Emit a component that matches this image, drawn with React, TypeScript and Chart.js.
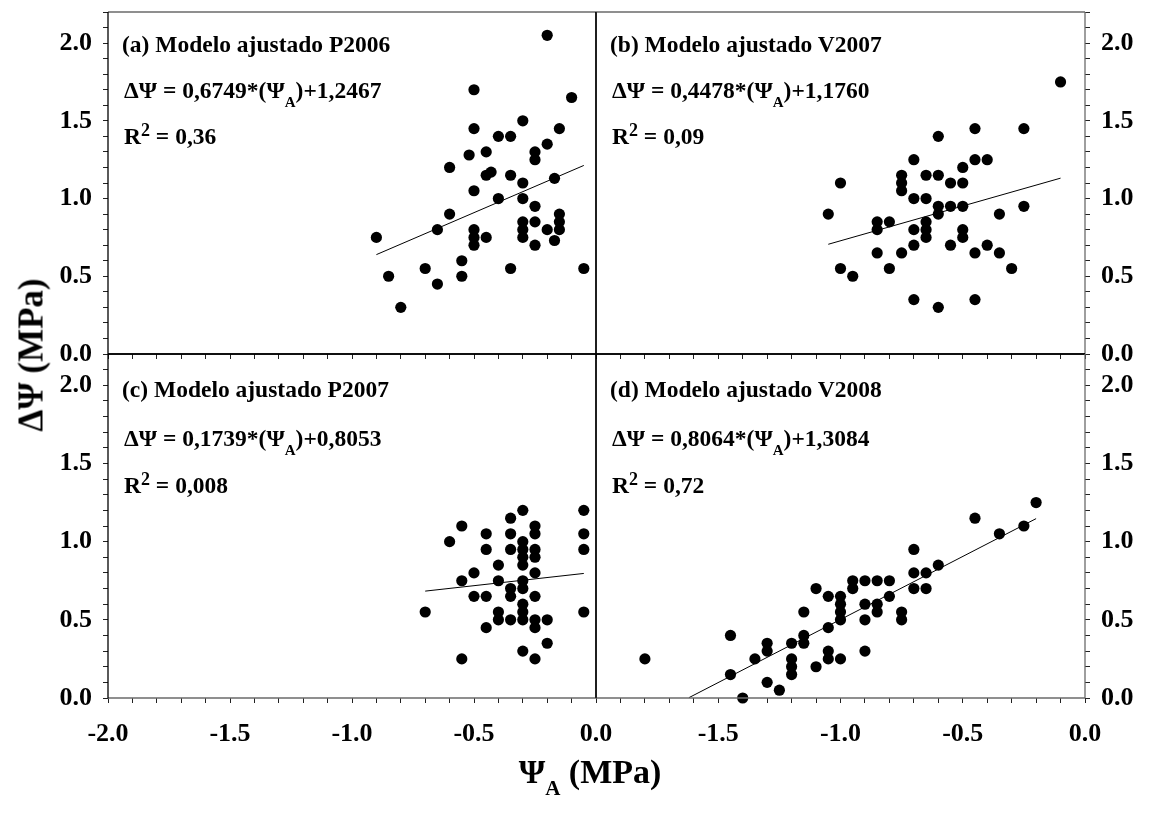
import React, { useEffect, useRef } from "react";
import { Chart, registerables } from "chart.js";
Chart.register(...registerables);

const FONT = "'Liberation Serif', 'Times New Roman', Times, serif";

// ---------- data ----------
const panelTitles = [
  "(a) Modelo ajustado P2006",
  "(b) Modelo ajustado V2007",
  "(c) Modelo ajustado P2007",
  "(d) Modelo ajustado V2008",
];
const fitSlopes = [0.6749, 0.4478, 0.1739, 0.8064];
const fitIntercepts = [1.2467, 1.176, 0.8053, 1.3084];
const r2Labels = ["0,36", "0,09", "0,008", "0,72"];

const xTickValuesLeft = ["-2.0", "-1.5", "-1.0", "-0.5", "0.0"];
const yTickValues = ["0.0", "0.5", "1.0", "1.5", "2.0"];

const aX = [-0.2, -0.5, -0.1, -0.3, -0.5, -0.15, -0.4, -0.35, -0.2, -0.45, -0.25, -0.52, -0.25, -0.6, -0.45, -0.43, -0.35, -0.3, -0.17, -0.5, -0.4, -0.3, -0.25, -0.6, -0.15, -0.3, -0.25, -0.15, -0.65, -0.5, -0.3, -0.2, -0.15, -0.9, -0.5, -0.45, -0.3, -0.17, -0.5, -0.25, -0.55, -0.7, -0.35, -0.05, -0.85, -0.55, -0.65, -0.8];
const aY = [2.05, 1.7, 1.65, 1.5, 1.45, 1.45, 1.4, 1.4, 1.35, 1.3, 1.3, 1.28, 1.25, 1.2, 1.15, 1.17, 1.15, 1.1, 1.13, 1.05, 1.0, 1.0, 0.95, 0.9, 0.9, 0.85, 0.85, 0.85, 0.8, 0.8, 0.8, 0.8, 0.8, 0.75, 0.75, 0.75, 0.75, 0.73, 0.7, 0.7, 0.6, 0.55, 0.55, 0.55, 0.5, 0.5, 0.45, 0.3];
const aLineX = [-0.9, -0.05];

const bX = [-0.1, -0.45, -0.25, -0.6, -0.7, -0.45, -0.4, -0.5, -0.75, -0.65, -0.6, -1.0, -0.75, -0.55, -0.5, -0.75, -0.7, -0.65, -0.6, -0.55, -0.5, -0.25, -1.05, -0.6, -0.35, -0.85, -0.8, -0.65, -0.85, -0.7, -0.65, -0.5, -0.65, -0.5, -0.7, -0.55, -0.4, -0.85, -0.75, -0.45, -0.35, -1.0, -0.8, -0.3, -0.95, -0.7, -0.45, -0.6];
const bY = [1.75, 1.45, 1.45, 1.4, 1.25, 1.25, 1.25, 1.2, 1.15, 1.15, 1.15, 1.1, 1.1, 1.1, 1.1, 1.05, 1.0, 1.0, 0.95, 0.95, 0.95, 0.95, 0.9, 0.9, 0.9, 0.85, 0.85, 0.85, 0.8, 0.8, 0.8, 0.8, 0.75, 0.75, 0.7, 0.7, 0.7, 0.65, 0.65, 0.65, 0.65, 0.55, 0.55, 0.55, 0.5, 0.35, 0.35, 0.3];
const bLineX = [-1.05, -0.1];

const cX = [-0.3, -0.05, -0.35, -0.55, -0.25, -0.45, -0.35, -0.25, -0.05, -0.6, -0.3, -0.45, -0.35, -0.3, -0.25, -0.05, -0.3, -0.25, -0.4, -0.3, -0.5, -0.25, -0.55, -0.4, -0.3, -0.35, -0.3, -0.5, -0.45, -0.35, -0.25, -0.3, -0.7, -0.4, -0.3, -0.05, -0.4, -0.35, -0.3, -0.25, -0.2, -0.45, -0.25, -0.2, -0.3, -0.55, -0.25];
const cY = [1.2, 1.2, 1.15, 1.1, 1.1, 1.05, 1.05, 1.05, 1.05, 1.0, 1.0, 0.95, 0.95, 0.95, 0.95, 0.95, 0.9, 0.9, 0.85, 0.85, 0.8, 0.8, 0.75, 0.75, 0.75, 0.7, 0.7, 0.65, 0.65, 0.65, 0.65, 0.6, 0.55, 0.55, 0.55, 0.55, 0.5, 0.5, 0.5, 0.5, 0.5, 0.45, 0.45, 0.35, 0.3, 0.25, 0.25];
const cLineX = [-0.7, -0.05];

const dX = [-0.2, -0.45, -0.25, -0.35, -0.7, -0.6, -0.7, -0.65, -0.95, -0.9, -0.85, -0.8, -1.1, -0.95, -0.7, -0.65, -1.05, -1.0, -0.8, -1.0, -0.9, -0.85, -1.15, -1.0, -0.85, -0.75, -1.0, -0.9, -0.75, -1.05, -1.45, -1.15, -1.3, -1.2, -1.15, -1.3, -0.9, -1.05, -1.8, -1.35, -1.2, -1.05, -1.0, -1.2, -1.1, -1.45, -1.2, -1.3, -1.25, -1.4];
const dY = [1.25, 1.15, 1.1, 1.05, 0.95, 0.85, 0.8, 0.8, 0.75, 0.75, 0.75, 0.75, 0.7, 0.7, 0.7, 0.7, 0.65, 0.65, 0.65, 0.6, 0.6, 0.6, 0.55, 0.55, 0.55, 0.55, 0.5, 0.5, 0.5, 0.45, 0.4, 0.4, 0.35, 0.35, 0.35, 0.3, 0.3, 0.3, 0.25, 0.25, 0.25, 0.25, 0.25, 0.2, 0.2, 0.15, 0.15, 0.1, 0.05, 0.0];
const dLineX = [-1.62, -0.2];

// ---------- layout ----------
const W = 1151;
const H = 813;
const PLOT_L = 108;
const PLOT_M = 596;
const PLOT_R = 1085;
const PLOT_T = 12;
const PLOT_MY = 354;
const PLOT_B = 698;
const X_AXIS_H = 52;
const Y_AXIS_RW = 66;

const OUTER = "#6a6a6a";
const INNER = "#000000";

const framePlugin = {
  id: "frame",
  afterDatasetsDraw(chart: any, _args: any, opts: any) {
    const { ctx, chartArea } = chart;
    const { left, right, top, bottom } = chartArea;
    ctx.save();
    ctx.lineWidth = 1.3;
    const seg = (x1: number, y1: number, x2: number, y2: number, c: string) => {
      ctx.strokeStyle = c;
      ctx.beginPath();
      ctx.moveTo(x1, y1);
      ctx.lineTo(x2, y2);
      ctx.stroke();
    };
    seg(left, top, right, top, opts.top);
    seg(right, top, right, bottom, opts.right);
    seg(left, bottom, right, bottom, opts.bottom);
    seg(left, top, left, bottom, opts.left);
    ctx.restore();
  },
};

const isHalf = (v: number) => Math.abs(v * 2 - Math.round(v * 2)) < 1e-6;

type PanelSpec = {
  xs: number[];
  ys: number[];
  lineX: number[];
  slope: number;
  intercept: number;
  col: 0 | 1;
  row: 0 | 1;
};

const panels: PanelSpec[] = [
  { xs: aX, ys: aY, lineX: aLineX, slope: fitSlopes[0], intercept: fitIntercepts[0], col: 0, row: 0 },
  { xs: bX, ys: bY, lineX: bLineX, slope: fitSlopes[1], intercept: fitIntercepts[1], col: 1, row: 0 },
  { xs: cX, ys: cY, lineX: cLineX, slope: fitSlopes[2], intercept: fitIntercepts[2], col: 0, row: 1 },
  { xs: dX, ys: dY, lineX: dLineX, slope: fitSlopes[3], intercept: fitIntercepts[3], col: 1, row: 1 },
];

function tickFont() {
  return { family: FONT, size: 26, weight: "bold" as const };
}

function PanelChart({ spec }: { spec: PanelSpec }) {
  const ref = useRef<HTMLCanvasElement | null>(null);
  useEffect(() => {
    if (!ref.current) return;
    const { col, row } = spec;
    const pts = spec.xs.map((x, i) => ({ x, y: spec.ys[i] }));
    const linePts = spec.lineX.map((x) => ({ x, y: spec.slope * x + spec.intercept }));
    const padLeft = col === 0 ? 0 : PLOT_M;
    const padRight = col === 0 ? W - PLOT_M : W - PLOT_R - Y_AXIS_RW;
    const padTop = row === 0 ? PLOT_T : PLOT_MY;
    const padBottom = row === 0 ? H - PLOT_MY - X_AXIS_H : H - PLOT_B - X_AXIS_H;
    const yWidth = col === 0 ? PLOT_L : Y_AXIS_RW;

    const chart = new Chart(ref.current, {
      type: "scatter",
      data: {
        datasets: [
          {
            type: "scatter",
            data: pts,
            pointRadius: 5.6,
            pointHoverRadius: 5.6,
            backgroundColor: "#000",
            borderWidth: 0,
            clip: false,
            order: 1,
          } as any,
          {
            type: "line",
            data: linePts,
            borderColor: "#000",
            borderWidth: 1,
            pointRadius: 0,
            fill: false,
            clip: false,
            order: 2,
          } as any,
        ],
      },
      options: {
        responsive: false,
        animation: false,
        events: [],
        layout: { padding: { left: padLeft, right: padRight, top: padTop, bottom: padBottom } },
        plugins: {
          legend: { display: false },
          tooltip: { enabled: false },
          frame: {
            top: row === 0 ? OUTER : INNER,
            bottom: row === 1 ? OUTER : INNER,
            left: INNER,
            right: col === 1 ? OUTER : INNER,
          },
        } as any,
        scales: {
          x: {
            type: "linear",
            position: "bottom",
            min: -2,
            max: 0,
            afterFit: (s: any) => {
              s.height = X_AXIS_H;
              s.paddingLeft = 0;
              s.paddingRight = 0;
            },
            border: { display: false },
            grid: { drawOnChartArea: false, drawTicks: true, tickLength: 5, tickColor: "#222", tickWidth: 1 },
            ticks: {
              display: row === 1,
              stepSize: 0.1,
              autoSkip: false,
              maxRotation: 0,
              minRotation: 0,
              maxTicksLimit: 100,
              padding: 16,
              color: "#000",
              font: tickFont(),
              callback: (v: any) => {
                const n = Number(v);
                if (!isHalf(n)) return "";
                if (col === 1 && n <= -1.999) return "";
                const s = Math.abs(n) < 1e-9 ? "0.0" : n.toFixed(1);
                return xTickValuesLeft.includes(s) ? s : "";
              },
            },
          },
          y: {
            type: "linear",
            position: col === 0 ? "left" : "right",
            min: 0,
            max: 2.2,
            afterFit: (s: any) => {
              s.width = yWidth;
              s.paddingTop = 0;
              s.paddingBottom = 0;
            },
            border: { display: false },
            grid: { drawOnChartArea: false, drawTicks: true, tickLength: 5, tickColor: "#222", tickWidth: 1 },
            ticks: {
              stepSize: 0.1,
              autoSkip: false,
              maxTicksLimit: 100,
              padding: 11,
              color: "#000",
              font: tickFont(),
              callback: (v: any) => {
                const n = Number(v);
                if (!isHalf(n)) return "";
                const s = Math.abs(n).toFixed(1);
                return yTickValues.includes(s) ? s : "";
              },
            },
          },
        },
      } as any,
      plugins: [framePlugin],
    });
    return () => chart.destroy();
  }, [spec]);
  return (
    <canvas
      ref={ref}
      width={W}
      height={H}
      style={{ position: "absolute", left: 0, top: 0, width: W, height: H }}
    />
  );
}

const fmt = (n: number) => n.toFixed(4).replace(".", ",");

const textBase: React.CSSProperties = {
  position: "absolute",
  fontFamily: FONT,
  fontWeight: "bold",
  fontSize: 23.5,
  lineHeight: "24px",
  whiteSpace: "nowrap",
  color: "#000",
};

function Annotations() {
  const lefts = [122, 610, 122, 610];
  const titleY = [44, 44, 389, 389];
  const eqY = [90, 90, 438, 438];
  const r2Y = [136, 136, 485, 485];
  return (
    <>
      {panelTitles.map((t, i) => (
        <React.Fragment key={i}>
          <div style={{ ...textBase, left: lefts[i], top: titleY[i] - 12 }}>{t}</div>
          <div style={{ ...textBase, left: lefts[i] + 2, top: eqY[i] - 12 }}>
            {"ΔΨ = " + fmt(fitSlopes[i]) + "*(Ψ"}
            <span style={{ position: "relative", top: 9, fontSize: 15 }}>A</span>
            {")+" + fmt(fitIntercepts[i])}
          </div>
          <div style={{ ...textBase, left: lefts[i] + 2, top: r2Y[i] - 12 }}>
            R<span style={{ position: "relative", top: -8, fontSize: 18 }}>2</span>
            {" = " + r2Labels[i]}
          </div>
        </React.Fragment>
      ))}
      <div
        style={{
          ...textBase,
          fontSize: 35,
          lineHeight: "35px",
          left: 31,
          top: 355,
          transform: "translate(-50%, -50%) rotate(-90deg)",
        }}
      >
        ΔΨ (MPa)
      </div>
      <div
        style={{
          ...textBase,
          fontSize: 34,
          lineHeight: "34px",
          left: 590,
          top: 774,
          transform: "translate(-50%, -50%)",
        }}
      >
        Ψ<span style={{ position: "relative", top: 12, fontSize: 21 }}>A</span> (MPa)
      </div>
    </>
  );
}

export default function App() {
  return (
    <div style={{ position: "absolute", left: 0, top: 0, width: W, height: H, background: "#fff", overflow: "hidden" }}>
      {panels.map((p, i) => (
        <PanelChart key={i} spec={p} />
      ))}
      <Annotations />
    </div>
  );
}
